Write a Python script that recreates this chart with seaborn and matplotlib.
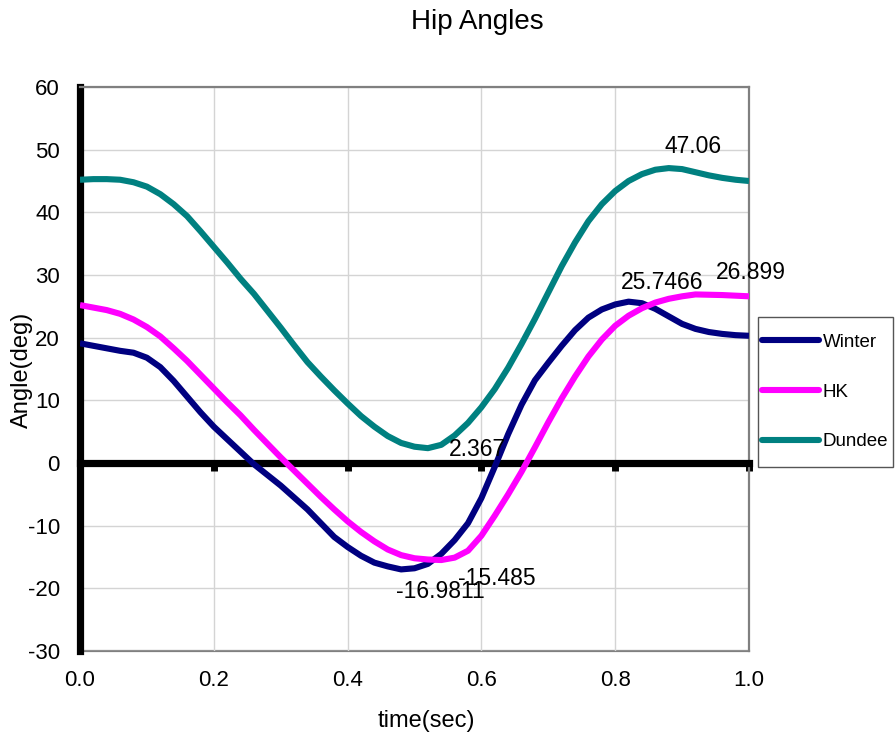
import numpy as np
import pandas as pd
import matplotlib
matplotlib.use("Agg")
import matplotlib.pyplot as plt
from matplotlib.lines import Line2D
from matplotlib.patches import Rectangle
import seaborn as sns

# ---------------- data ----------------
time = [0.00, 0.02, 0.04, 0.06, 0.08, 0.10, 0.12, 0.14, 0.16, 0.18,
        0.20, 0.22, 0.24, 0.26, 0.28, 0.30, 0.32, 0.34, 0.36, 0.38,
        0.40, 0.42, 0.44, 0.46, 0.48, 0.50, 0.52, 0.54, 0.56, 0.58,
        0.60, 0.62, 0.64, 0.66, 0.68, 0.70, 0.72, 0.74, 0.76, 0.78,
        0.80, 0.82, 0.84, 0.86, 0.88, 0.90, 0.92, 0.94, 0.96, 0.98, 1.00]

winter = [19.1, 18.7, 18.3, 17.9, 17.6, 16.8, 15.3, 13.1, 10.6, 8.1,
          5.8, 3.8, 1.8, -0.2, -1.9, -3.6, -5.5, -7.4, -9.6, -11.8,
          -13.4, -14.8, -15.9, -16.5, -16.9811, -16.8, -16.1, -14.5, -12.3, -9.6,
          -5.6, -0.6, 4.6, 9.3, 13.2, 16.0, 18.7, 21.2, 23.2, 24.5,
          25.3, 25.7466, 25.5, 24.6, 23.4, 22.2, 21.4, 20.9, 20.6, 20.4, 20.3]

hk = [25.2, 24.8, 24.4, 23.8, 22.9, 21.7, 20.2, 18.3, 16.3, 14.1,
      11.9, 9.7, 7.6, 5.3, 3.1, 0.9, -1.2, -3.3, -5.4, -7.4,
      -9.3, -11.0, -12.5, -13.8, -14.7, -15.2, -15.4, -15.485, -15.1, -14.0,
      -11.6, -8.4, -5.0, -1.4, 2.5, 6.5, 10.3, 13.8, 17.0, 19.7,
      21.9, 23.5, 24.7, 25.6, 26.2, 26.6, 26.899, 26.85, 26.8, 26.7, 26.6]

dundee = [45.2, 45.3, 45.3, 45.2, 44.8, 44.1, 42.9, 41.3, 39.4, 37.0,
          34.5, 32.0, 29.4, 27.0, 24.3, 21.6, 18.8, 16.1, 13.8, 11.6,
          9.5, 7.5, 5.8, 4.3, 3.2, 2.6, 2.367, 2.9, 4.4, 6.4,
          8.9, 11.8, 15.2, 19.0, 23.0, 27.2, 31.4, 35.2, 38.6, 41.3,
          43.4, 45.0, 46.1, 46.8, 47.06, 46.9, 46.4, 45.9, 45.5, 45.2, 45.0]

series_names = ["Winter", "HK", "Dundee"]
series_colors = ["#000080", "#FF00FF", "#008080"]
x_ticks = [0.0, 0.2, 0.4, 0.6, 0.8, 1.0]
y_ticks = [-30, -20, -10, 0, 10, 20, 30, 40, 50, 60]
title = "Hip Angles"
x_label = "time(sec)"
y_label = "Angle(deg)"

# label offsets (pixels) for max / min labels of each series
max_offsets = {"Winter": (34, 19), "HK": (55, 22), "Dundee": (24, 22)}
min_offsets = {"Winter": (39, -22), "HK": (56, -18), "Dundee": (50, -1)}

values = {"Winter": winter, "HK": hk, "Dundee": dundee}
df = pd.concat([pd.DataFrame({"time": time, "angle": values[n], "series": n})
                for n in series_names], ignore_index=True)
palette = dict(zip(series_names, series_colors))

# ---------------- style ----------------
sns.set_style("white")
plt.rcParams["font.family"] = ["Liberation Sans", "DejaVu Sans"]
plt.rcParams["text.color"] = "black"
plt.rcParams["axes.labelcolor"] = "black"
plt.rcParams["xtick.color"] = "black"
plt.rcParams["ytick.color"] = "black"

W, H = 896, 742
fig = plt.figure(figsize=(W / 100, H / 100), dpi=100)
ax = fig.add_axes([80 / W, (H - 651) / H, 669 / W, 564 / H])

sns.lineplot(data=df, x="time", y="angle", hue="series", hue_order=series_names,
             palette=palette, linewidth=4.4, errorbar=None, legend=False,
             ax=ax, zorder=3, solid_joinstyle="round", solid_capstyle="butt")

ax.set_xlim(0, 1)
ax.set_ylim(-30, 60)
ax.set_xticks(x_ticks)
ax.set_yticks(y_ticks)
ax.grid(True, color="#d4d4d4", linewidth=1.0)
ax.set_axisbelow(True)

# spines
ax.spines["bottom"].set_position(("data", 0))
ax.spines["bottom"].set_color("black")
ax.spines["bottom"].set_linewidth(5.2)
ax.spines["left"].set_color("black")
ax.spines["left"].set_linewidth(5.2)
for s in ("top", "right"):
    ax.spines[s].set_color("#808080")
    ax.spines[s].set_linewidth(1.6)

ax.tick_params(axis="x", labelbottom=False, direction="out", length=5.5,
               width=5.0, color="black", bottom=True)
ax.tick_params(axis="y", direction="out", length=5.5, width=4.3, color="black",
               labelsize=16, pad=9, labelcolor="black")
ax.set_yticklabels([f"{v:d}" for v in y_ticks])
ax.set_xlabel("")
ax.set_ylabel("")

sec = ax.secondary_xaxis(0.0)
sec.set_xticks(x_ticks)
sec.set_xticklabels([f"{v:.1f}" for v in x_ticks])
sec.tick_params(axis="x", length=0, labelsize=16, pad=14, labelcolor="black")
sec.spines["bottom"].set_color("#808080")
sec.spines["bottom"].set_linewidth(1.6)

# data labels at max and min of each series
for n in series_names:
    arr = np.array(values[n])
    for idx, off in ((int(np.argmax(arr)), max_offsets[n]),
                     (int(np.argmin(arr)), min_offsets[n])):
        ax.annotate(f"{arr[idx]:g}", xy=(time[idx], arr[idx]), xytext=off,
                    textcoords="offset pixels", ha="center", va="center",
                    fontsize=16.5, color="black", zorder=5)

# titles
fig.text(477 / W, 1 - 22 / H, title, ha="center", va="center", fontsize=20,
         color="black")
fig.text(426 / W, 1 - 721 / H, x_label, ha="center", va="center", fontsize=17,
         color="black")
fig.text(22 / W, 1 - 370 / H, y_label, ha="center", va="center", fontsize=17,
         rotation=90, color="black")

# legend (frame drawn as a separate box)
fig.patches.append(Rectangle((758 / W, 1 - 467 / H), 135 / W, 150 / H,
                             transform=fig.transFigure, facecolor="white",
                             edgecolor="#555555", linewidth=1.0, zorder=1))
handles = [Line2D([], [], color=c, linewidth=4.4, solid_capstyle="round")
           for c in series_colors]
leg = fig.legend(handles, series_names, loc="center left",
                 bbox_to_anchor=(762 / W, 1 - 392 / H), borderaxespad=0,
                 frameon=False, fontsize=13.5, handlelength=3.05,
                 handletextpad=0.2, labelspacing=1.75, borderpad=0)

fig.savefig("out.png", dpi=100)
